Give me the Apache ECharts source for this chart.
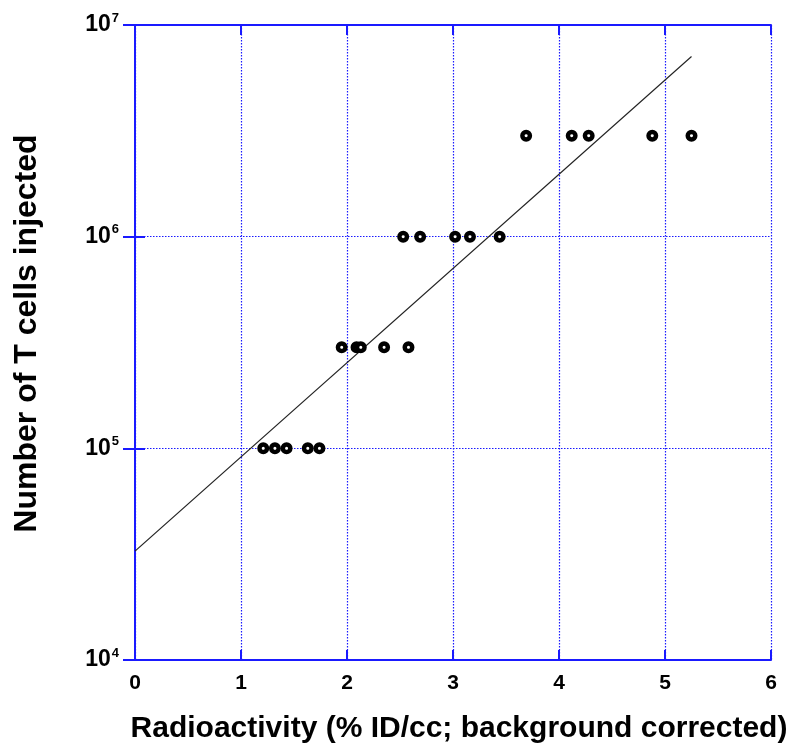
<!DOCTYPE html>
<html>
<head>
<meta charset="utf-8">
<script src="https://cdn.jsdelivr.net/npm/echarts@6/dist/echarts.min.js"></script>
<style>html,body{margin:0;padding:0;background:#fff}#c{width:795px;height:751px}</style>
</head>
<body>
<div id="c"></div>
<script>
// Data
const radioactivity = [1.21, 1.32, 1.43, 1.63, 1.74,
                       1.95, 2.09, 2.13, 2.35, 2.58,
                       2.53, 2.69, 3.02, 3.16, 3.44,
                       3.69, 4.12, 4.28, 4.88, 5.25];
const cells = [1e5, 1e5, 1e5, 1e5, 1e5,
               3e5, 3e5, 3e5, 3e5, 3e5,
               1e6, 1e6, 1e6, 1e6, 1e6,
               3e6, 3e6, 3e6, 3e6, 3e6];
const fitX = [0, 5.25];
const fitY = [32700, 7.1e6];
const xTicks = [0, 1, 2, 3, 4, 5, 6];
const yTickExponents = {10000: '4', 100000: '5', 1000000: '6', 10000000: '7'};

const points = radioactivity.map((x, i) => [x, cells[i]]);
const fit = fitX.map((x, i) => [x, fitY[i]]);

const blue = '#1a1aff';
const font = '"Liberation Sans", Arial, sans-serif';
const chart = echarts.init(document.getElementById('c'));
chart.setOption({
  backgroundColor: '#fff',
  animation: false,
  grid: {left: 135, right: 24, top: 25, bottom: 91, containLabel: false, outerBoundsMode: 'none'},
  xAxis: [{
    type: 'value', min: 0, max: 6, interval: 1, position: 'bottom',
    name: 'Radioactivity (% ID/cc; background corrected)',
    nameLocation: 'middle', nameGap: 54,
    nameTextStyle: {fontFamily: font, fontWeight: 'bold', fontSize: 30, color: '#000', padding: [0, 0, 0, 12]},
    axisLine: {show: true, lineStyle: {color: blue, width: 2}},
    axisTick: {show: true, inside: true, length: 10, lineStyle: {color: blue, width: 2}},
    axisLabel: {fontFamily: font, fontWeight: 'bold', fontSize: 21, color: '#000', margin: 13,
                formatter: v => xTicks.includes(v) ? String(v) : ''},
    splitLine: {show: true, lineStyle: {color: blue, type: [1.5, 1.5], width: 1.2}}
  }, {
    type: 'value', min: 0, max: 6, interval: 1, position: 'top',
    axisLine: {show: true, lineStyle: {color: blue, width: 2}},
    axisTick: {show: true, inside: true, length: 10, lineStyle: {color: blue, width: 2}},
    axisLabel: {show: false}, splitLine: {show: false}
  }],
  yAxis: [{
    type: 'log', logBase: 10, min: 1e4, max: 1e7, position: 'left',
    name: 'Number of T cells injected',
    nameLocation: 'middle', nameGap: 92, nameRotate: 90,
    nameTextStyle: {fontFamily: font, fontWeight: 'bold', fontSize: 32, color: '#000', padding: [0, 0, 0, 18]},
    axisLine: {show: true, lineStyle: {color: blue, width: 2}},
    axisTick: {show: true, inside: true, length: 10, lineStyle: {color: blue, width: 2}},
    minorTick: {show: false},
    axisLabel: {
      margin: 16,
      formatter: v => '{b|10}{s|' + (yTickExponents[Math.round(v)] || '') + '}',
      rich: {
        b: {fontFamily: font, fontWeight: 'bold', fontSize: 23, color: '#000', padding: [0, 0, 0, 0]},
        s: {fontFamily: font, fontWeight: 'bold', fontSize: 13, color: '#000', padding: [0, 0, 14, 1]}
      }
    },
    splitLine: {show: true, lineStyle: {color: blue, type: [1.5, 1.5], width: 1.2}}
  }, {
    type: 'log', logBase: 10, min: 1e4, max: 1e7, position: 'right',
    axisLine: {show: true, lineStyle: {color: blue, width: 2}},
    axisTick: {show: true, inside: true, length: 12, lineStyle: {color: blue, width: 2}},
    axisLabel: {show: false}, splitLine: {show: false}
  }],
  series: [{
    type: 'line', data: fit, xAxisIndex: 0, yAxisIndex: 0,
    showSymbol: false, lineStyle: {color: '#222', width: 1.2}, z: 2
  }, {
    type: 'scatter', data: points, xAxisIndex: 0, yAxisIndex: 0,
    symbol: 'circle', symbolSize: 7.5,
    itemStyle: {color: '#fff', borderColor: '#000', borderWidth: 4.5, opacity: 1}, z: 3
  }]
});
</script>
</body>
</html>
